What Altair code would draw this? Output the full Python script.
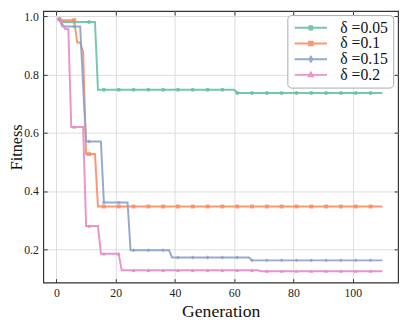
import altair as alt
import pandas as pd

GENERATIONS = list(range(1, 111))
SERIES = ["δ =0.05", "δ =0.1", "δ =0.15", "δ =0.2"]
COLORS = ["#66c2a5", "#fc8d62", "#8da0cb", "#e78ac3"]
SHAPES = ["circle", "square", "diamond", "triangle-up"]

# step levels: first generation of each level and its value
D005_START = [1, 2, 14, 61]
D005_LEVEL = [0.99, 0.981, 0.748, 0.737]
D01_START = [1, 2, 7, 9, 10, 14]
D01_LEVEL = [0.99, 0.987, 0.91, 0.877, 0.527, 0.347]
D015_START = [1, 2, 9, 10, 16, 25, 39, 66]
D015_LEVEL = [0.99, 0.965, 0.76, 0.57, 0.361, 0.197, 0.172, 0.162]
D02_START = [1, 2, 3, 5, 10, 15, 22, 69]
D02_LEVEL = [0.99, 0.975, 0.957, 0.62, 0.28, 0.185, 0.128, 0.125]

X_TICKS = [0, 20, 40, 60, 80, 100]
Y_TICKS = [0.2, 0.4, 0.6, 0.8, 1.0]

STEPS = [(D005_START, D005_LEVEL), (D01_START, D01_LEVEL),
         (D015_START, D015_LEVEL), (D02_START, D02_LEVEL)]

rows = []
for name, (starts, levels) in zip(SERIES, STEPS):
    for g in GENERATIONS:
        val = levels[0]
        for s, lv in zip(starts, levels):
            if g >= s:
                val = lv
        rows.append({"series": name, "gen": g, "fitness": val})
df = pd.DataFrame(rows)

# legend symbols: a line with the series marker on it (unit = 5.5 px)
LEGEND_PATHS = [
    "M-1,0L5,0M1.65,0A0.35,0.35,0,1,0,2.35,0A0.35,0.35,0,1,0,1.65,0Z",
    "M-1,0L5,0M1.67,-0.33H2.33V0.33H1.67Z",
    "M-1,0L5,0M2,-0.45L2.3,0L2,0.45L1.7,0Z",
    "M-1,0L5,0M2,-0.4L2.35,0.27L1.65,0.27Z",
]

FONT = "Liberation Serif, DejaVu Serif, serif"
xscale = alt.Scale(domain=[-4.45, 115.3], nice=False, zero=False)
yscale = alt.Scale(domain=[0.0855, 1.018], nice=False, zero=False)
cscale = alt.Scale(domain=SERIES, range=COLORS)

x_bottom = alt.Axis(values=X_TICKS, orient="bottom", offset=-4, tickSize=4,
                    domain=False, grid=True, labelPadding=5, title="Generation",
                    titleFontSize=18, titleFontWeight="normal", titlePadding=5)
y_left = alt.Axis(values=Y_TICKS, orient="left", offset=-4, tickSize=4,
                  domain=False, grid=True, labelPadding=5, format=".1f",
                  title="Fitness", titleFontSize=16.5, titleFontWeight="normal",
                  titleBaseline="alphabetic", titleX=-26, titleY=138.5)
x_top = alt.Axis(values=X_TICKS, orient="top", offset=-4, tickSize=4,
                 domain=False, grid=False, labels=False, title=None)
y_right = alt.Axis(values=Y_TICKS, orient="right", offset=-4, tickSize=4,
                   domain=False, grid=False, labels=False, title=None)

lines = alt.Chart(df).mark_line(strokeWidth=2, opacity=0.9).encode(
    x=alt.X("gen:Q", scale=xscale, axis=x_bottom),
    y=alt.Y("fitness:Q", scale=yscale, axis=y_left),
    color=alt.Color("series:N", scale=cscale, legend=None),
    detail="series:N",
)

points = alt.Chart(df).transform_filter("datum.gen % 5 == 1").mark_point(
    filled=True, size=16, opacity=0.85
).encode(
    x=alt.X("gen:Q", scale=xscale, axis=x_top),
    y=alt.Y("fitness:Q", scale=yscale, axis=y_right),
    color=alt.Color("series:N", scale=cscale, legend=None),
    shape=alt.Shape("series:N", scale=alt.Scale(domain=SERIES, range=SHAPES), legend=None),
)

legend_layer = alt.Chart(df).transform_filter("false").mark_point(
    filled=True, strokeWidth=2, opacity=0.9
).encode(
    fill=alt.Fill("series:N", scale=alt.Scale(domain=SERIES, range=COLORS),
                  legend=alt.Legend(title=None)),
    stroke=alt.Stroke("series:N", scale=alt.Scale(domain=SERIES, range=COLORS),
                      legend=alt.Legend(title=None)),
    shape=alt.Shape("series:N", scale=alt.Scale(domain=SERIES, range=LEGEND_PATHS),
                    legend=alt.Legend(title=None)),
)

chart = alt.layer(lines, points, legend_layer).resolve_scale(
    shape="independent", color="independent", fill="independent", stroke="independent"
).resolve_axis(
    x="independent", y="independent"
).properties(
    width=362, height=277,
    autosize=alt.AutoSizeParams(type="none"),
    padding={"left": 36, "top": 0, "right": 5, "bottom": 40},
).configure_view(
    stroke="#333333", strokeWidth=1.2
).configure_axis(
    labelFont=FONT, titleFont=FONT, labelFontSize=12, labelColor="#222222",
    titleColor="#111111", tickColor="#333333", tickWidth=1,
    gridColor="#dddddd", gridWidth=1,
).configure_legend(
    orient="none", legendX=249, legendY=4,
    labelFont=FONT, labelFontSize=16, labelColor="#111111",
    symbolSize=121, symbolStrokeWidth=2, labelOffset=33,
    padding=5, rowPadding=0, strokeColor="#aaaaaa", fillColor="rgba(255,255,255,0.85)",
    cornerRadius=4,
)

chart.save("out.html", embed_options={"renderer": "svg", "actions": False})
